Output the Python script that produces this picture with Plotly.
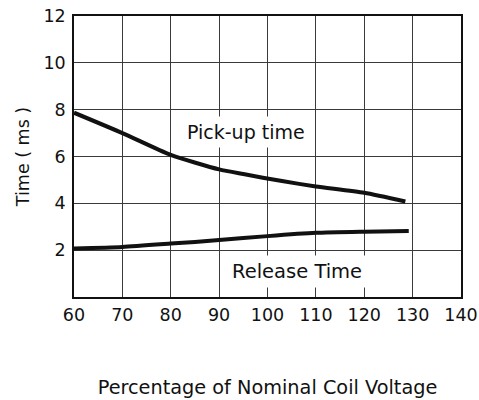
import plotly.graph_objects as go

voltage_pickup = [60, 70, 80, 90, 95, 103, 110, 120, 128.5]
pickup_time = [7.87, 7.0, 6.07, 5.45, 5.25, 4.95, 4.72, 4.45, 4.08]

voltage_release = [60, 70, 80, 90, 100, 110, 120, 129.2]
release_time = [2.07, 2.14, 2.28, 2.43, 2.6, 2.74, 2.79, 2.82]

x_ticks = [60, 70, 80, 90, 100, 110, 120, 130, 140]
y_ticks = [2, 4, 6, 8, 10, 12]

font_family = "DejaVu Sans, Arial, sans-serif"
ink = "#111111"

fig = go.Figure()
fig.add_trace(go.Scatter(x=voltage_pickup, y=pickup_time, mode="lines",
                         line=dict(color=ink, width=4, shape="spline", smoothing=0.6),
                         showlegend=False, hoverinfo="skip"))
fig.add_trace(go.Scatter(x=voltage_release, y=release_time, mode="lines",
                         line=dict(color=ink, width=4, shape="spline", smoothing=0.6),
                         showlegend=False, hoverinfo="skip"))

fig.add_annotation(x=95.6, y=7.05, text="Pick-up time", showarrow=False,
                   bgcolor="white", borderpad=4,
                   font=dict(family=font_family, size=19, color=ink))
fig.add_annotation(x=106.0, y=1.10, text="Release Time", showarrow=False,
                   bgcolor="white", borderpad=4,
                   font=dict(family=font_family, size=19.5, color=ink))

fig.update_layout(
    template="none",
    width=479, height=400,
    margin=dict(l=74, r=18, t=16, b=103),
    paper_bgcolor="white", plot_bgcolor="white",
    font=dict(family=font_family, size=17.5, color=ink),
    xaxis=dict(range=[60, 140], tickvals=x_ticks, showgrid=True, automargin=False,
               gridcolor="#3a3a3a", gridwidth=1, showline=True, linecolor=ink,
               linewidth=1.5, mirror=True, zeroline=False, ticks="",
               ticklabelstandoff=1,
               title=dict(text="Percentage of Nominal Coil Voltage", standoff=57,
                          font=dict(size=19.3))),
    yaxis=dict(range=[0, 12], tickvals=y_ticks, showgrid=True, automargin=False,
               gridcolor="#3a3a3a", gridwidth=1, showline=True, linecolor=ink,
               linewidth=1.5, mirror=True, zeroline=False, ticks="",
               ticklabelstandoff=3,
               title=dict(text="Time ( ms )", standoff=9, font=dict(size=17.5))),
)

fig.write_html("out.html", config={"displayModeBar": False},
               post_script="document.body.style.margin='0';")
